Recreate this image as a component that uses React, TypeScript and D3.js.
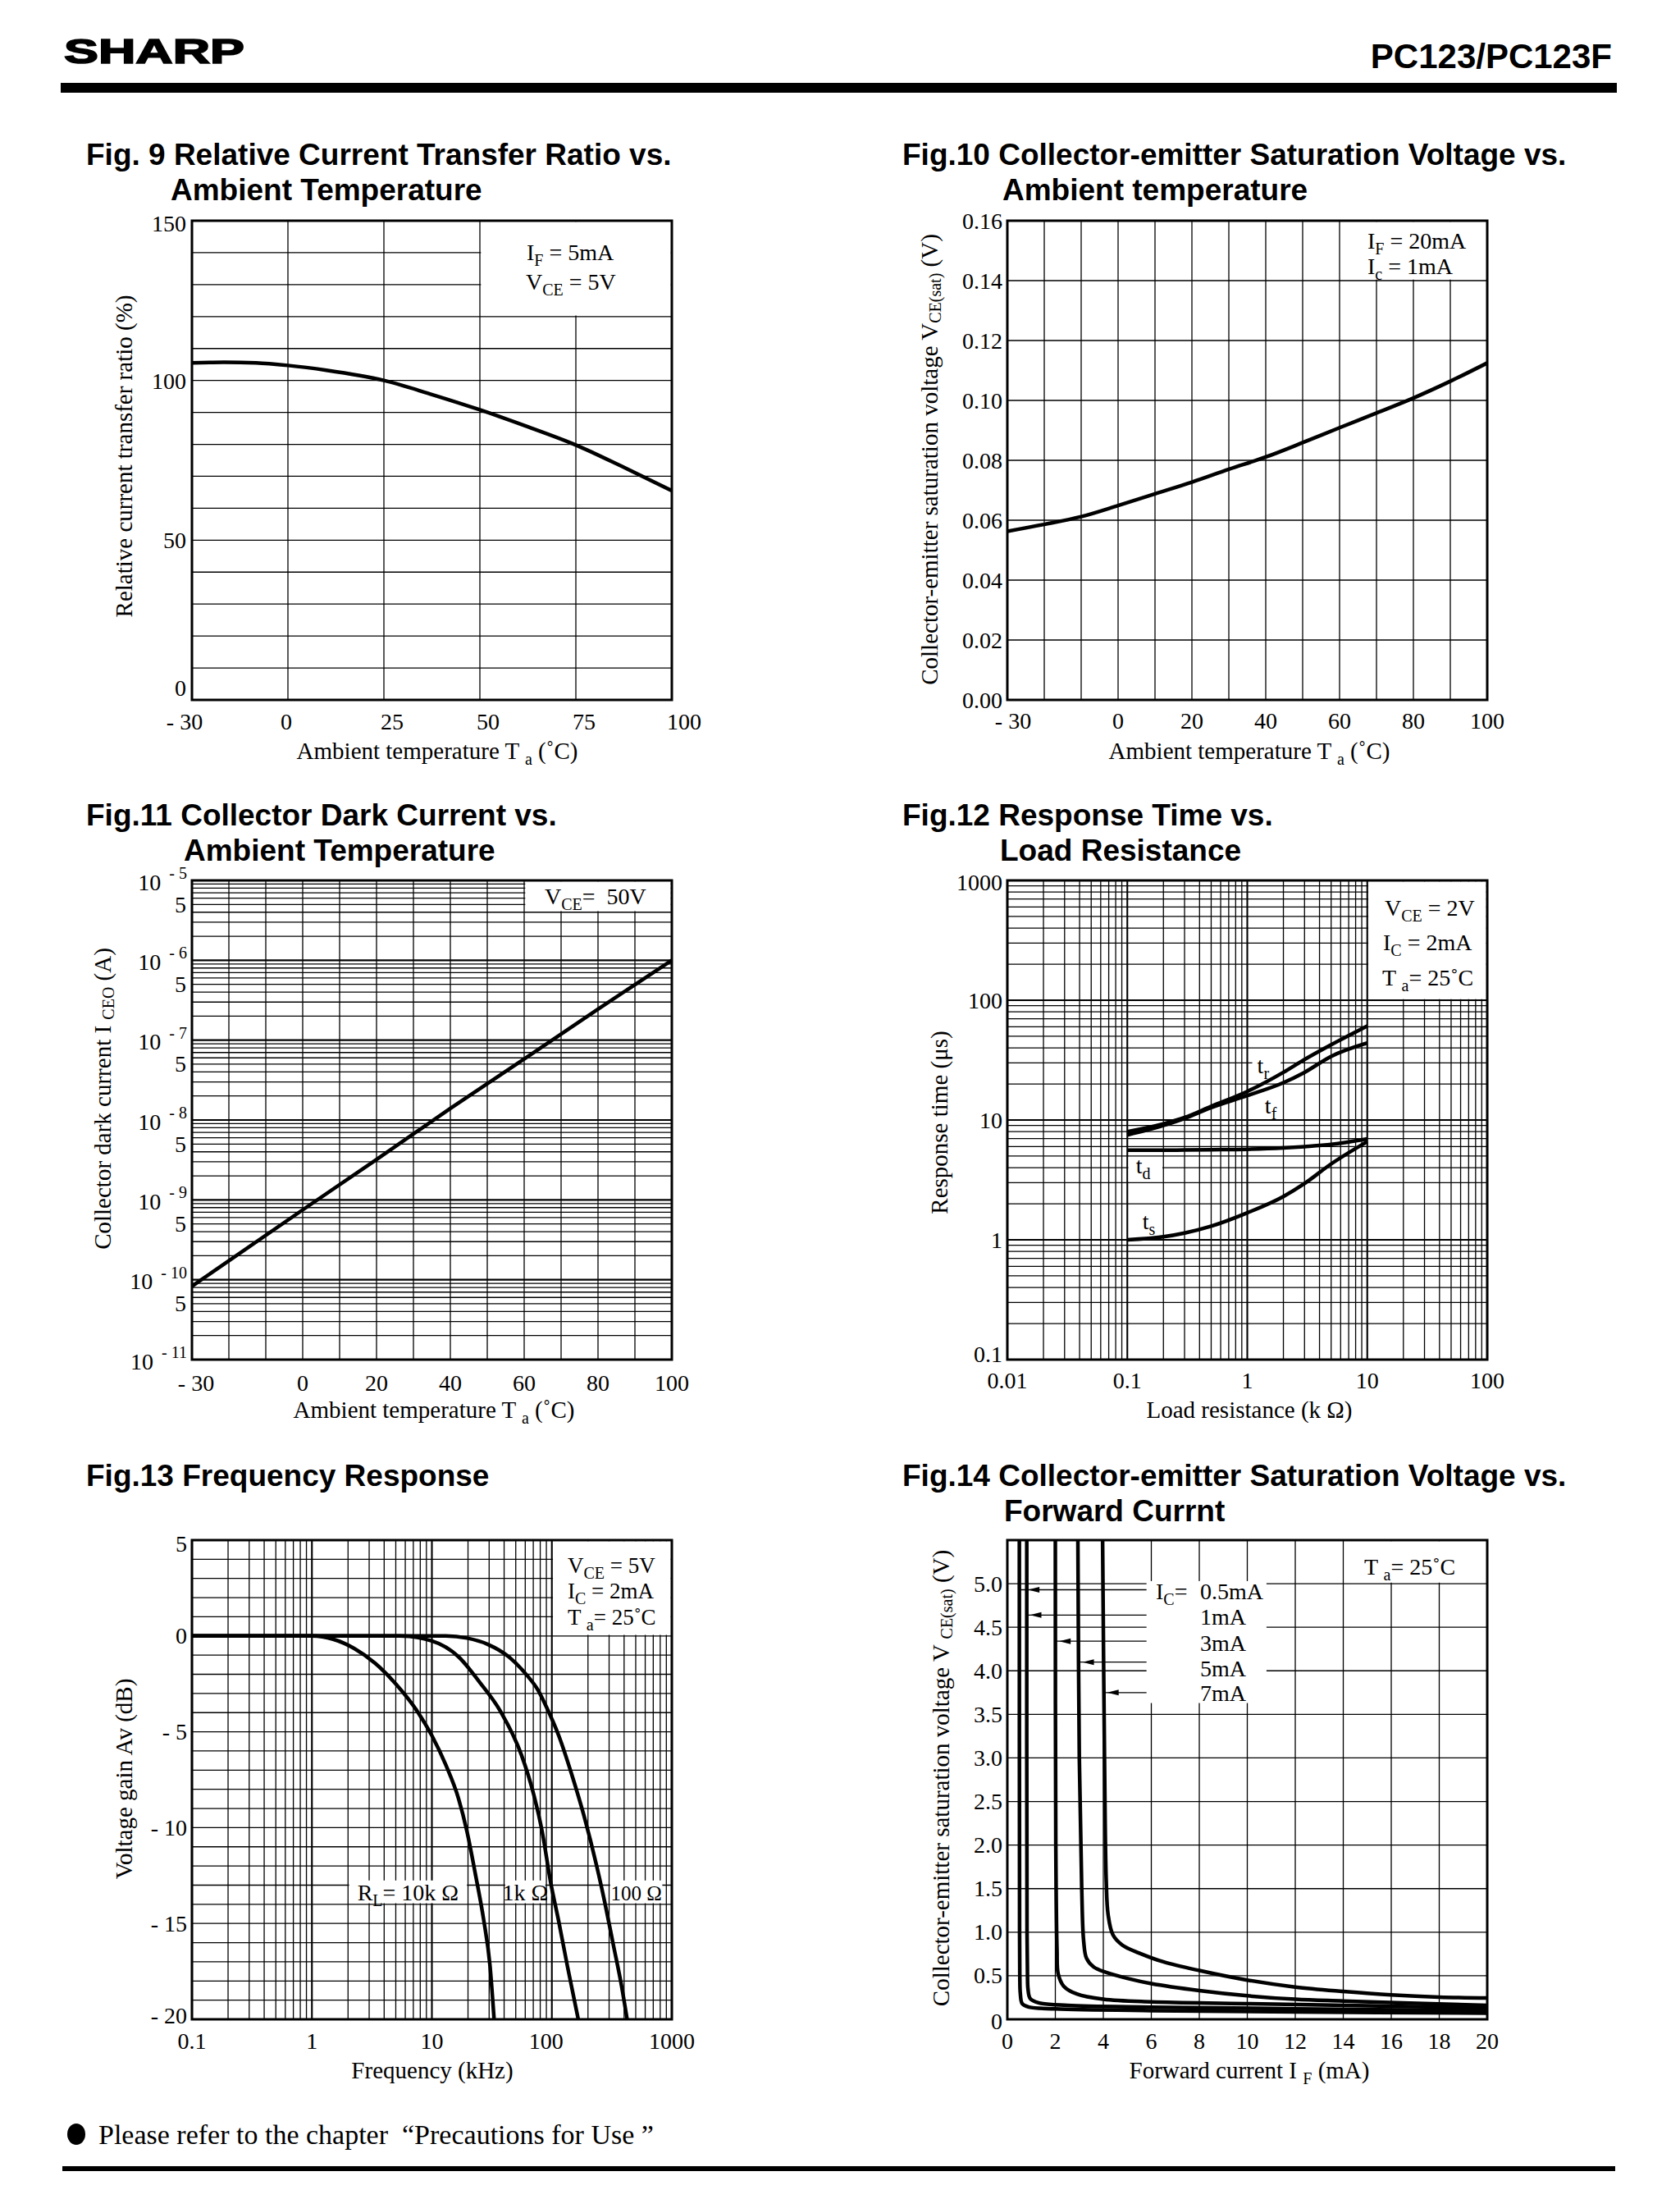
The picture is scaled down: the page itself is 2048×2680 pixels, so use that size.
import * as d3 from 'd3'

const SERIF = "'Liberation Serif', 'Times New Roman', Times, serif"
const SANS = "'Liberation Sans', Arial, Helvetica, sans-serif"

// ---- Fig. 9  relative CTR (%) vs ambient temperature (°C)
const fig9Temp = [-30, -20, -10, 0, 10, 25, 37.5, 50, 62.5, 75, 87.5, 100]
const fig9Ctr = [105.5, 105.7, 105.5, 104.7, 103.2, 100, 95.6, 90.8, 85.5, 79.8, 72.8, 65.5]
const fig9XTicks = [-30, 0, 25, 50, 75, 100]
const fig9YTicks = [0, 50, 100, 150]

// ---- Fig. 10  VCE(sat) (V) vs ambient temperature
const fig10Temp = [-30, -20, -10, 0, 10, 20, 30, 40, 50, 60, 70, 80, 90, 100]
const fig10Vce = [0.0563, 0.0586, 0.0612, 0.0649, 0.0688, 0.0727, 0.077, 0.0811, 0.0859, 0.0909, 0.0958, 0.1008, 0.1064, 0.1125]
const tempTicks = [-30, 0, 20, 40, 60, 80, 100]
const fig10YTicks = [0, 0.02, 0.04, 0.06, 0.08, 0.1, 0.12, 0.14, 0.16]

// ---- Fig. 11  collector dark current (A) vs ambient temperature
const fig11Temp = [-30, 0, 20, 40, 60, 80, 100]
const fig11Iceo = [8.3e-11, 7.5e-10, 3.2e-9, 1.4e-8, 5.8e-8, 2.45e-7, 1e-6]
const fig11Exp = [-5, -6, -7, -8, -9, -10, -11]

// ---- Fig. 12  response time (µs) vs load resistance (kΩ)
const fig12Load = [0.1, 0.2, 0.3, 0.5, 1, 2, 3, 5, 10]
const fig12Tr = [8, 9.3, 10.5, 13, 17.3, 25, 32, 42.5, 61]
const fig12Tf = [7.5, 9, 10.3, 12.7, 16, 20.5, 25, 34, 44]
const fig12Td = [5.6, 5.6, 5.62, 5.65, 5.7, 5.85, 6.0, 6.25, 6.95]
const fig12Ts = [1.0, 1.06, 1.14, 1.3, 1.68, 2.3, 2.95, 4.3, 6.6]
const fig12Labels = ['r', 'f', 'd', 's']
const fig12LabelR = [1.21, 1.4, 0.118, 0.134]
const fig12LabelT = [24.6, 11.35, 3.59, 1.23]
const fig12XTicks = [0.01, 0.1, 1, 10, 100]
const fig12YTicks = [0.1, 1, 10, 100, 1000]

// ---- Fig. 13  voltage gain (dB) vs frequency (kHz)
const fig13F10k = [0.1, 1, 1.5, 2.25, 3.36, 5, 7.5, 10, 13.1, 16.7, 19.6, 23, 27, 30.5, 33]
const fig13G10k = [0, 0, -0.17, -0.65, -1.42, -2.5, -3.9, -5.2, -6.75, -8.5, -10.2, -12.4, -14.8, -17.2, -20]
const fig13F1k = [0.1, 5.4, 10, 16.7, 24.9, 37.2, 55.7, 70.8, 83, 97.7, 115, 134.5, 166]
const fig13G1k = [0, 0, -0.26, -1.09, -2.4, -3.92, -6.2, -8.3, -10.2, -12.85, -15.0, -17.2, -20]
const fig13F100 = [0.1, 13.1, 19.6, 29.3, 43.8, 60.2, 76.7, 90, 114.6, 145.8, 185, 236, 277, 325, 382, 424]
const fig13G100 = [0, 0, -0.11, -0.44, -1.09, -1.96, -2.83, -3.7, -5.23, -7.19, -9.37, -11.98, -13.94, -16.1, -18.3, -20]
const fig13BoxLo = [2, 40, 300]
const fig13BoxHi = [20, 90, 850]
const fig13XTicks = [0.1, 1, 10, 100, 1000]
const fig13YTicks = [5, 0, -5, -10, -15, -20]

// ---- Fig. 14  VCE(sat) (V) vs forward current (mA)
const fig14If05 = [0.5, 0.51, 0.52, 0.54, 0.62, 0.9, 2, 6, 12, 20]
const fig14V05 = [5.5, 1.0, 0.5, 0.3, 0.18, 0.14, 0.12, 0.1, 0.085, 0.07]
const fig14If1 = [0.81, 0.82, 0.84, 0.86, 0.95, 1.3, 2.5, 6, 12, 20]
const fig14V1 = [5.5, 1.0, 0.5, 0.35, 0.24, 0.19, 0.16, 0.14, 0.12, 0.1]
const fig14If3 = [2.0, 2.02, 2.07, 2.12, 2.35, 2.9, 4, 6, 10, 20]
const fig14V3 = [5.5, 2.0, 0.8, 0.52, 0.38, 0.29, 0.23, 0.2, 0.18, 0.13]
const fig14If5 = [2.94, 3.0, 3.1, 3.18, 3.3, 3.6, 4.1, 5, 6, 8, 10, 12, 14, 20]
const fig14V5 = [5.5, 3.0, 1.5, 0.9, 0.7, 0.6, 0.54, 0.47, 0.41, 0.33, 0.27, 0.23, 0.21, 0.16]
const fig14If7 = [3.97, 4.05, 4.12, 4.2, 4.4, 4.8, 5.5, 6.5, 8, 10, 12, 14, 16, 18, 20]
const fig14V7 = [5.5, 3.0, 1.6, 1.2, 0.97, 0.85, 0.76, 0.66, 0.56, 0.45, 0.37, 0.32, 0.28, 0.255, 0.245]
const fig14IcLabels = ['0.5mA', '1mA', '3mA', '5mA', '7mA']
const fig14ArrowV = [4.93, 4.64, 4.34, 4.1, 3.75]
const fig14ArrowFrom = [0.55, 0.85, 2.05, 3.0, 4.05]
const fig14ArrowTip = [0.86, 0.94, 2.16, 3.13, 4.16]
const fig14XTicks = [0, 2, 4, 6, 8, 10, 12, 14, 16, 18, 20]
const fig14YTicks = [0, 0.5, 1, 1.5, 2, 2.5, 3, 3.5, 4, 4.5, 5]

// ---- layout
const PW = 585
const PH = 584
const LEFT = [234, 1228]
const TOP = [269, 1073, 1877]
const PRE = { whiteSpace: 'pre' } as const

type G = { v: number; major?: boolean }
type Blank = { x0: number; x1: number; y0: number; y1: number; inset?: number }

function logGrid(lo: number, hi: number): G[] {
  const out: G[] = []
  const e0 = Math.round(Math.log10(lo))
  const e1 = Math.round(Math.log10(hi))
  for (let e = e0; e < e1; e++) {
    for (let m = 1; m < 10; m++) out.push({ v: m * Math.pow(10, e), major: m === 1 })
  }
  out.push({ v: hi, major: true })
  return out
}

function linGrid(lo: number, hi: number, step: number): G[] {
  return d3.range(lo, hi + step / 2, step).map(v => ({ v }))
}

function curvePath(xs: number[], ys: number[], x: any, y: any, curve: any = d3.curveMonotoneX) {
  return d3.line<number>()
    .x((_, i) => x(xs[i]))
    .y((_, i) => y(ys[i]))
    .curve(curve)(xs) ?? ''
}

function Curve({ d }: { d: string }) {
  return <path d={d} fill="none" stroke="#000" strokeWidth={4.5} />
}

// text with one subscript part
function sub(a: string, s: string, b: string, d = 7, size = 20) {
  return (
    <>
      {a}
      <tspan fontSize={size} dy={d}>{s}</tspan>
      {b !== '' && <tspan dy={-d}>{b}</tspan>}
    </>
  )
}

function Plot({ id, x, y, xGrid, yGrid, blanks = [], children }: any) {
  const xr = x.range()
  const yr = y.range()
  const xl = xr[0], xh = xr[xr.length - 1]
  const yb = yr[0], yt = yr[yr.length - 1]
  return (
    <g>
      <defs>
        <clipPath id={id}>
          <rect x={xl} y={yt} width={xh - xl} height={yb - yt} />
        </clipPath>
      </defs>
      <g stroke="#000">
        {xGrid.map((g: G, i: number) => (
          <line key={'gx' + i} x1={x(g.v)} x2={x(g.v)} y1={yt} y2={yb} strokeWidth={g.major ? 2.1 : 1.3} />
        ))}
        {yGrid.map((g: G, i: number) => (
          <line key={'gy' + i} x1={xl} x2={xh} y1={y(g.v)} y2={y(g.v)} strokeWidth={g.major ? 2.1 : 1.3} />
        ))}
      </g>
      {blanks.map((b: Blank, i: number) => {
        const p = b.inset ?? 1.3
        const ax = Math.min(x(b.x0), x(b.x1)) + p
        const bx = Math.max(x(b.x0), x(b.x1)) - p
        const ay = Math.min(y(b.y0), y(b.y1)) + p
        const by = Math.max(y(b.y0), y(b.y1)) - p
        return <rect key={'b' + i} x={ax} y={ay} width={bx - ax} height={by - ay} fill="#fff" />
      })}
      <g clipPath={`url(#${id})`}>{children}</g>
      <rect x={xl} y={yt} width={xh - xl} height={yb - yt} fill="none" stroke="#000" strokeWidth={3} />
    </g>
  )
}

function XTicks({ x, vals, labels, base, dx = [] }: any) {
  return (
    <g fontSize={28} textAnchor="middle">
      {vals.map((v: number, i: number) => (
        <text key={i} x={x(v) + (dx[i] ?? 0)} y={base}>{labels[i]}</text>
      ))}
    </g>
  )
}

function YTicks({ y, vals, labels, right, dy = [] }: any) {
  return (
    <g fontSize={28} textAnchor="end" dominantBaseline="central">
      {vals.map((v: number, i: number) => (
        <text key={i} x={right} y={y(v) + (dy[i] ?? 0)}>{labels[i]}</text>
      ))}
    </g>
  )
}

function YTitle({ cx, cy, children }: any) {
  return (
    <text transform={`translate(${cx},${cy}) rotate(-90)`} textAnchor="middle" dominantBaseline="central" fontSize={29}>
      {children}
    </text>
  )
}

function Title({ x1, x2, base, l1, l2 }: any) {
  return (
    <g fontFamily={SANS} fontWeight="bold" fontSize={37}>
      <text x={x1} y={base}>{l1}</text>
      {l2 && <text x={x2} y={base + 43}>{l2}</text>}
    </g>
  )
}

function Fig9() {
  const L = LEFT[0], T = TOP[0]
  const x = d3.scaleLinear().domain([-30, 0, 100]).range([L, L + PW / 5, L + PW])
  const y = d3.scaleLinear().domain([0, 150]).range([T + PH, T])
  return (
    <g>
      <Title x1={105} x2={208} base={201} l1="Fig. 9 Relative Current Transfer Ratio vs." l2="Ambient Temperature" />
      <Plot id="c9" x={x} y={y} xGrid={fig9XTicks.map(v => ({ v }))} yGrid={linGrid(0, 150, 10)}
        blanks={[{ x0: 50, x1: 100, y0: 120, y1: 150 }]}>
        <Curve d={curvePath(fig9Temp, fig9Ctr, x, y)} />
      </Plot>
      <g fontSize={28}>
        <text x={642} y={317}>{sub('I', 'F', ' = 5mA')}</text>
        <text x={641} y={353}>{sub('V', 'CE', ' = 5V')}</text>
      </g>
      <XTicks x={x} vals={fig9XTicks} base={889} dx={[-9, -2, 10, 10, 10, 15]}
        labels={fig9XTicks.map(v => (v < 0 ? `- ${-v}` : String(v)))} />
      <YTicks y={y} vals={fig9YTicks} right={227} dy={[-15, 0, 1, 3]} labels={fig9YTicks.map(String)} />
      <text x={533} y={925} fontSize={29} textAnchor="middle">{sub('Ambient temperature T ', 'a', ' (˚C)')}</text>
      <YTitle cx={151} cy={556}>Relative current transfer ratio (%)</YTitle>
    </g>
  )
}

function Fig10() {
  const L = LEFT[1], T = TOP[0]
  const x = d3.scaleLinear().domain([-30, 100]).range([L, L + PW])
  const y = d3.scaleLinear().domain([0, 0.16]).range([T + PH, T])
  const f = d3.format('.2f')
  return (
    <g>
      <Title x1={1100} x2={1222} base={201} l1="Fig.10 Collector-emitter Saturation Voltage vs." l2="Ambient temperature" />
      <Plot id="c10" x={x} y={y} xGrid={linGrid(-30, 100, 10)} yGrid={linGrid(0, 0.16, 0.02)}
        blanks={[{ x0: 60, x1: 100, y0: 0.14, y1: 0.16 }]}>
        <Curve d={curvePath(fig10Temp, fig10Vce, x, y)} />
      </Plot>
      <g fontSize={28}>
        <text x={1667} y={303}>{sub('I', 'F', ' = 20mA')}</text>
        <text x={1667} y={334}>{sub('I', 'c', ' = 1mA')}</text>
      </g>
      <XTicks x={x} vals={tempTicks} base={888} dx={[7]}
        labels={tempTicks.map(v => (v < 0 ? `- ${-v}` : String(v)))} />
      <YTicks y={y} vals={fig10YTicks} right={1222} labels={fig10YTicks.map(v => f(v))} />
      <text x={1523} y={925} fontSize={29} textAnchor="middle">{sub('Ambient temperature T ', 'a', ' (˚C)')}</text>
      <YTitle cx={1133} cy={560}>{sub('Collector-emitter saturation voltage V', 'CE(sat)', ' (V)')}</YTitle>
    </g>
  )
}

function Fig11() {
  const L = LEFT[0], T = TOP[1]
  const x = d3.scaleLinear().domain([-30, 100]).range([L, L + PW])
  const y = d3.scaleLog().domain([1e-11, 1e-5]).range([T + PH, T])
  return (
    <g>
      <Title x1={105} x2={224} base={1006} l1="Fig.11 Collector Dark Current vs." l2="Ambient Temperature" />
      <Plot id="c11" x={x} y={y} xGrid={linGrid(-30, 100, 10)} yGrid={logGrid(1e-11, 1e-5)}
        blanks={[{ x0: 60, x1: 100, y0: 4e-6, y1: 1e-5 }]}>
        <Curve d={curvePath(fig11Temp, fig11Iceo, x, y, d3.curveLinear)} />
      </Plot>
      <text x={664} y={1102} fontSize={28} style={PRE}>{sub('V', 'CE', '=  50V')}</text>
      <XTicks x={x} vals={tempTicks} base={1695} dx={[5]}
        labels={tempTicks.map(v => (v < 0 ? `- ${-v}` : String(v)))} />
      <g fontSize={28} textAnchor="end" dominantBaseline="central">
        {fig11Exp.map(e => (
          <text key={e} x={228} y={y(Math.pow(10, e)) + 2} style={PRE}>
            10<tspan fontSize={20} dy={-11}>{`  - ${-e}`}</tspan>
          </text>
        ))}
        {fig11Exp.slice(1).map(e => (
          <text key={'f' + e} x={227} y={y(5 * Math.pow(10, e))}>5</text>
        ))}
      </g>
      <text x={529} y={1728} fontSize={29} textAnchor="middle">{sub('Ambient temperature T ', 'a', ' (˚C)')}</text>
      <YTitle cx={125} cy={1339}>{sub('Collector dark current I ', 'CEO', ' (A)')}</YTitle>
    </g>
  )
}

function Fig12() {
  const L = LEFT[1], T = TOP[1]
  const x = d3.scaleLog().domain([0.01, 100]).range([L, L + PW])
  const y = d3.scaleLog().domain([0.1, 1000]).range([T + PH, T])
  return (
    <g>
      <Title x1={1100} x2={1219} base={1006} l1="Fig.12 Response Time vs." l2="Load Resistance" />
      <Plot id="c12" x={x} y={y} xGrid={logGrid(0.01, 100)} yGrid={logGrid(0.1, 1000)}
        blanks={[
          { x0: 10, x1: 100, y0: 100, y1: 1000 },
          { x0: 1.1, x1: 1.9, y0: 22, y1: 33, inset: 0 },
          { x0: 0.1, x1: 0.2, y0: 3, y1: 5 },
        ]}>
        <Curve d={curvePath(fig12Load, fig12Tr, x, y)} />
        <Curve d={curvePath(fig12Load, fig12Tf, x, y)} />
        <Curve d={curvePath(fig12Load, fig12Td, x, y)} />
        <Curve d={curvePath(fig12Load, fig12Ts, x, y)} />
        <g fontSize={28}>
          {fig12Labels.map((s, i) => (
            <text key={s} x={x(fig12LabelR[i])} y={y(fig12LabelT[i])}>{sub('t', s, '')}</text>
          ))}
        </g>
      </Plot>
      <g fontSize={28} style={PRE}>
        <text x={1688} y={1116}>{sub('V', 'CE', ' = 2V')}</text>
        <text x={1686} y={1158}>{sub('I', 'C', ' = 2mA')}</text>
        <text x={1685} y={1201}>{sub('T ', 'a', '=  25˚C')}</text>
      </g>
      <XTicks x={x} vals={fig12XTicks} base={1692} labels={fig12XTicks.map(String)} />
      <YTicks y={y} vals={fig12YTicks} right={1222} dy={[-7, 0, 0, 0, 2]} labels={fig12YTicks.map(String)} />
      <text x={1523} y={1728} fontSize={29} textAnchor="middle">Load resistance (k Ω)</text>
      <YTitle cx={1145} cy={1368}>Response time (μs)</YTitle>
    </g>
  )
}

function Fig13() {
  const L = LEFT[0], T = TOP[2]
  const x = d3.scaleLog().domain([0.1, 1000]).range([L, L + PW])
  const y = d3.scaleLinear().domain([-20, 5]).range([T + PH, T])
  const boxes: Blank[] = fig13BoxLo.map((lo, i) => ({ x0: lo, x1: fig13BoxHi[i], y0: -14, y1: -12.7 }))
  boxes.unshift({ x0: 100, x1: 1000, y0: 0, y1: 5 })
  const labelX = fig13BoxLo.map((lo, i) => (x(lo) + x(fig13BoxHi[i])) / 2)
  return (
    <g>
      <Title x1={105} base={1811} l1="Fig.13 Frequency Response" />
      <Plot id="c13" x={x} y={y} xGrid={logGrid(0.1, 1000)} yGrid={linGrid(-20, 5, 1)} blanks={boxes}>
        <Curve d={curvePath(fig13F10k, fig13G10k, x, y)} />
        <Curve d={curvePath(fig13F1k, fig13G1k, x, y)} />
        <Curve d={curvePath(fig13F100, fig13G100, x, y)} />
        <g fontSize={28} textAnchor="middle" style={PRE}>
          <text x={labelX[0]} y={y(-13.8)}>{sub('R', 'L', '=  10k Ω')}</text>
          <text x={labelX[1]} y={y(-13.8)}>1k Ω</text>
          <text x={labelX[2]} y={y(-13.8)} fontSize={25}>100 Ω</text>
        </g>
      </Plot>
      <g fontSize={27} style={PRE}>
        <text x={692} y={1917}>{sub('V', 'CE', ' = 5V')}</text>
        <text x={692} y={1948}>{sub('I', 'C', ' = 2mA')}</text>
        <text x={692} y={1980}>{sub('T ', 'a', '=  25˚C')}</text>
      </g>
      <XTicks x={x} vals={fig13XTicks} base={2497} dx={[0, 0, 0, -7, 0]} labels={fig13XTicks.map(String)} />
      <YTicks y={y} vals={fig13YTicks} right={228} dy={[4, 0, 0, 0, 0, -5]}
        labels={fig13YTicks.map(v => (v < 0 ? `- ${-v}` : String(v)))} />
      <text x={527} y={2533} fontSize={29} textAnchor="middle">Frequency (kHz)</text>
      <YTitle cx={151} cy={2168}>Voltage gain Av (dB)</YTitle>
    </g>
  )
}

function Fig14() {
  const L = LEFT[1], T = TOP[2]
  const x = d3.scaleLinear().domain([0, 20]).range([L, L + PW])
  const y = d3.scaleLinear().domain([0, 5.5]).range([T + PH, T])
  const cr = d3.curveCatmullRom.alpha(0.5)
  const legendBase = [1949, 1980, 2012, 2043, 2073]
  return (
    <g>
      <Title x1={1100} x2={1224} base={1811} l1="Fig.14 Collector-emitter Saturation Voltage vs." l2="Forward Currnt" />
      <Plot id="c14" x={x} y={y} xGrid={linGrid(0, 20, 2)} yGrid={linGrid(0, 5.5, 0.5)}
        blanks={[
          { x0: 14, x1: 20, y0: 5, y1: 5.5 },
          { x0: 5.8, x1: 10.8, y0: 3.63, y1: 5.03, inset: 0 },
        ]}>
        <Curve d={curvePath(fig14If05, fig14V05, x, y, cr)} />
        <Curve d={curvePath(fig14If1, fig14V1, x, y, cr)} />
        <Curve d={curvePath(fig14If3, fig14V3, x, y, cr)} />
        <Curve d={curvePath(fig14If5, fig14V5, x, y, cr)} />
        <Curve d={curvePath(fig14If7, fig14V7, x, y, cr)} />
        {fig14ArrowV.map((v, i) => {
          const py = y(v)
          const tx = x(fig14ArrowTip[i])
          return (
            <g key={i}>
              <line x1={x(fig14ArrowFrom[i])} x2={x(5.8)} y1={py} y2={py} stroke="#000" strokeWidth={1.3} />
              <path d={`M${tx},${py}L${tx + 14},${py - 3.5}L${tx + 14},${py + 3.5}Z`} fill="#000" />
            </g>
          )
        })}
      </Plot>
      <g fontSize={28} style={PRE}>
        <text x={1663} y={1919}>{sub('T ', 'a', '=  25˚C')}</text>
        <text x={1409} y={legendBase[0]}>{sub('I', 'C', '=')}</text>
        {fig14IcLabels.map((s, i) => (
          <text key={s} x={1463} y={legendBase[i]}>{s}</text>
        ))}
      </g>
      <XTicks x={x} vals={fig14XTicks} base={2497} labels={fig14XTicks.map(String)} />
      <YTicks y={y} vals={fig14YTicks} right={1222} dy={[2]}
        labels={fig14YTicks.map(v => (v === 0 ? '0' : v.toFixed(1)))} />
      <text x={1523} y={2533} fontSize={29} textAnchor="middle">{sub('Forward current I ', 'F', ' (mA)')}</text>
      <YTitle cx={1147} cy={2167}>{sub('Collector-emitter saturation voltage V ', 'CE(sat)', ' (V)')}</YTitle>
    </g>
  )
}

export default function App() {
  return (
    <svg width={2048} height={2680} viewBox="0 0 2048 2680"
      style={{ position: 'absolute', left: 0, top: 0, background: '#fff' }}
      fontFamily={SERIF} fill="#000">
      <rect x={0} y={0} width={2048} height={2680} fill="#fff" />
      <text x={78} y={77} fontFamily={SANS} fontWeight={900} fontSize={42} textLength={220}
        lengthAdjust="spacingAndGlyphs" stroke="#000" strokeWidth={1.6}>SHARP</text>
      <text x={1965} y={83} fontFamily={SANS} fontWeight="bold" fontSize={42} textAnchor="end">PC123/PC123F</text>
      <rect x={74} y={101} width={1897} height={12} fill="#000" />

      <Fig9 />
      <Fig10 />
      <Fig11 />
      <Fig12 />
      <Fig13 />
      <Fig14 />

      <ellipse cx={93} cy={2601} rx={11} ry={13} fill="#000" />
      <text x={120} y={2613} fontSize={34} style={PRE}>Please refer to the chapter  “Precautions for Use ”</text>
      <rect x={76} y={2640} width={1893} height={6} fill="#000" />
    </svg>
  )
}
